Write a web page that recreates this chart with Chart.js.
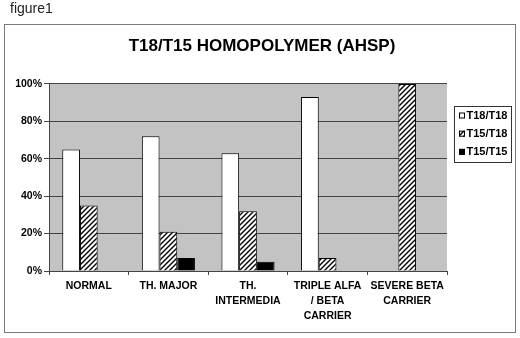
<!DOCTYPE html>
<html>
<head>
<meta charset="utf-8">
<script src="https://cdn.jsdelivr.net/npm/chart.js@4/dist/chart.umd.min.js"></script>
<style>
  body { margin: 0; background: #fff; }
  #chart { display: block; }
</style>
</head>
<body>
<canvas id="chart" width="520" height="338"></canvas>
<script>
var categories = ["NORMAL", "TH. MAJOR", ["TH.", "INTERMEDIA"], ["TRIPLE ALFA", "/ BETA", "CARRIER"], ["SEVERE BETA", "CARRIER"]];
var seriesNames = ["T18/T18", "T15/T18", "T15/T15"];
var t18t18 = [65, 72, 63, 93, 0];
var t15t18 = [35, 21, 32, 7, 100];
var t15t15 = [0, 7, 5, 0, 0];
var yTicks = [0, 20, 40, 60, 80, 100];

var FONT = "'Liberation Sans', Arial, sans-serif";

// diagonal hatch like the old excel fill
function makeHatch() {
	var c = document.createElement("canvas");
	c.width = 5;
	c.height = 5;
	var g = c.getContext("2d");
	g.fillStyle = "#fff";
	g.fillRect(0, 0, 5, 5);
	g.strokeStyle = "#000";
	g.lineWidth = 1.4;
	g.beginPath();
	g.moveTo(-1, 6); g.lineTo(6, -1);
	g.moveTo(-1, 1); g.lineTo(1, -1);
	g.moveTo(4, 6); g.lineTo(6, 4);
	g.stroke();
	return g.createPattern(c, "repeat");
}
var hatch = makeHatch();

var frame = {
	id: "frame",
	beforeDraw: function(chart) {
		var ctx = chart.ctx;
		var a = chart.chartArea;
		ctx.save();
		ctx.fillStyle = "#fff";
		ctx.fillRect(0, 0, chart.width, chart.height);
		ctx.strokeStyle = "#7a7a7a";
		ctx.lineWidth = 1;
		ctx.strokeRect(4.5, 24.5, 511, 308);
		ctx.fillStyle = "#222";
		ctx.font = "14px " + FONT;
		ctx.textBaseline = "middle";
		ctx.fillText("figure1", 10, 9);
		ctx.fillStyle = "#c3c3c3";
		ctx.fillRect(a.left, a.top, a.right - a.left, a.bottom - a.top);
		ctx.restore();
	},
	afterDraw: function(chart) {
		var ctx = chart.ctx;
		ctx.save();
		ctx.strokeStyle = "#333";
		ctx.lineWidth = 1;
		ctx.strokeRect(454.5, 106.5, 57, 56);
		ctx.font = "bold 11px " + FONT;
		ctx.textBaseline = "middle";
		chart.data.datasets.forEach(function(ds, i) {
			var cy = 115.5 + i * 18.2;
			ctx.fillStyle = ds.backgroundColor;
			ctx.fillRect(459, cy - 3, 6, 6);
			ctx.strokeStyle = "#000";
			ctx.strokeRect(459.5, cy - 2.5, 5, 5);
			ctx.fillStyle = "#000";
			ctx.fillText(ds.label, 466.5, cy);
		});
		ctx.restore();
	}
};

var ctx = document.getElementById("chart").getContext("2d");
var chart = new Chart(ctx, {
	type: "bar",
	data: {
		labels: categories,
		datasets: [
			{ label: seriesNames[0], data: t18t18, backgroundColor: "#fff", borderColor: "#000", borderWidth: 1 },
			{ label: seriesNames[1], data: t15t18, backgroundColor: hatch, borderColor: "#000", borderWidth: 1 },
			{ label: seriesNames[2], data: t15t15, backgroundColor: "#000", borderColor: "#000", borderWidth: 1 }
		]
	},
	options: {
		responsive: false,
		animation: false,
		events: [],
		layout: { padding: { left: 4, right: 0, top: 0, bottom: 0 } },
		datasets: { bar: { categoryPercentage: 0.667, barPercentage: 1 } },
		plugins: {
			legend: { display: false },
			tooltip: { enabled: false },
			title: {
				display: true,
				text: "T18/T15 HOMOPOLYMER (AHSP)",
				color: "#000",
				font: { family: FONT, size: 17, weight: "bold", lineHeight: 1.2 },
				padding: { top: 36.5, bottom: 27 }
			}
		},
		scales: {
			x: {
				afterFit: function(s) { s.height = 67; },
				grid: { display: true, drawOnChartArea: false, drawTicks: true, tickLength: 4, color: "#444", offset: true },
				border: { display: true, color: "#444" },
				ticks: {
					color: "#000",
					font: { family: FONT, size: 10.5, weight: "bold", lineHeight: 1.4 },
					padding: 4,
					maxRotation: 0,
					autoSkip: false
				}
			},
			y: {
				min: 0,
				max: 100,
				afterFit: function(s) { s.width = 45; },
				afterBuildTicks: function(s) { s.ticks = yTicks.map(function(v) { return { value: v }; }); },
				grid: { color: "#444", lineWidth: 1, tickLength: 5 },
				border: { display: true, color: "#444" },
				ticks: {
					color: "#000",
					font: { family: FONT, size: 10.5, weight: "bold" },
					padding: 2,
					callback: function(v) { return v + "%"; }
				}
			},
			// empty right axis, only keeps room for the legend box
			side: {
				position: "right",
				min: 0,
				max: 100,
				afterFit: function(s) { s.width = 73; },
				grid: { drawOnChartArea: false, drawTicks: false },
				border: { display: false },
				ticks: { display: false }
			}
		}
	},
	plugins: [frame]
});
</script>
</body>
</html>
